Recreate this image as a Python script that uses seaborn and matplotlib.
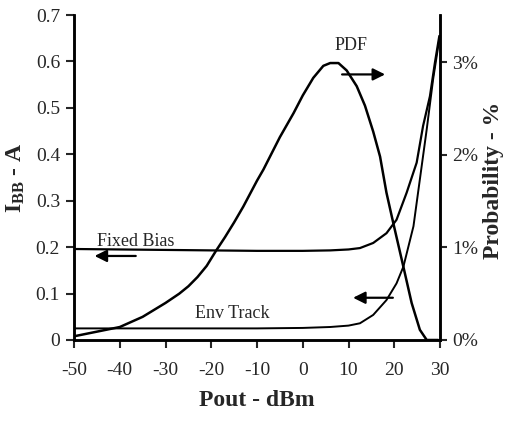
import matplotlib
matplotlib.use("Agg")
import matplotlib.pyplot as plt
import seaborn as sns
import pandas as pd

# ---- data ----
pdf_x = [-50, -45, -40, -35, -30, -27, -25, -23, -21, -19, -17, -15, -13, -10, -8.6, -5, -2, 0, 2.3, 4.5,
         6, 7.8, 9.6, 11.8, 13.6, 15.4, 16.9, 18.3, 19.8, 22, 23.8, 25.6, 27.1, 29.6]
pdf_pct = [0.04, 0.09, 0.14, 0.25, 0.40, 0.50, 0.58, 0.68, 0.80, 0.96, 1.11, 1.27, 1.44, 1.72, 1.84, 2.19,
           2.45, 2.64, 2.83, 2.96, 2.99, 2.99, 2.91, 2.74, 2.53, 2.25, 1.98, 1.59, 1.26, 0.79, 0.40, 0.11,
           0.0, 0.0]

fixed_x = [-50, -40, -30, -20, -10, 0, 6, 10, 12.5, 15.4, 18.3, 20.5, 22.7, 24.9, 26.3, 27.8, 28.9, 29.85]
fixed_a = [0.196, 0.195, 0.194, 0.193, 0.192, 0.192, 0.193, 0.195, 0.198, 0.209, 0.23, 0.259, 0.317, 0.382,
           0.461, 0.525, 0.598, 0.655]

env_x = [-50, -40, -30, -20, -10, 0, 6, 10, 12.5, 15.4, 18.3, 20.5, 22, 24.2, 25.6, 27.1, 28.5, 29.85]
env_a = [0.025, 0.025, 0.025, 0.025, 0.025, 0.026, 0.028, 0.031, 0.036, 0.054, 0.086, 0.122, 0.158, 0.245,
         0.346, 0.454, 0.562, 0.648]

x_ticks = [-50, -40, -30, -20, -10, 0, 10, 20, 30]
x_ticklabels = ["-50", "-40", "-30", "-20", "-10", "0", "10", "20", "30"]
y_ticks = [0, 0.1, 0.2, 0.3, 0.4, 0.5, 0.6, 0.7]
y_ticklabels = ["0", "0.1", "0.2", "0.3", "0.4", "0.5", "0.6", "0.7"]
r_ticks = [0, 1, 2, 3]
r_ticklabels = ["0%", "1%", "2%", "3%"]

sns.set_style("white")
plt.rcParams["font.family"] = ["Liberation Serif", "DejaVu Serif"]
plt.rcParams["mathtext.fontset"] = "custom"
plt.rcParams["mathtext.rm"] = "Liberation Serif"
plt.rcParams["mathtext.bf"] = "Liberation Serif:bold"
plt.rcParams["lines.solid_joinstyle"] = "round"

fig = plt.figure(figsize=(5.09, 4.24), dpi=100)
ax = fig.add_axes([74 / 509, 1 - 340 / 424, (440 - 74) / 509, (340 - 15) / 424])

fixed_df = pd.DataFrame({"x": fixed_x, "y": fixed_a})
env_df = pd.DataFrame({"x": env_x, "y": env_a})
pdf_df = pd.DataFrame({"x": pdf_x, "y": pdf_pct})

sns.lineplot(data=fixed_df, x="x", y="y", ax=ax, color="black", lw=1.6, sort=False)
sns.lineplot(data=env_df, x="x", y="y", ax=ax, color="black", lw=1.4, sort=False)

ax.set_xlim(-50, 30)
ax.set_ylim(0, 0.7)
ax.set_xticks(x_ticks)
ax.set_xticklabels(x_ticklabels)
ax.set_yticks(y_ticks)
ax.set_yticklabels(y_ticklabels)
ax.tick_params(axis="both", direction="out", length=6, width=1.5, labelsize=14, pad=4,
               bottom=True, left=True)
ax.tick_params(axis="x", pad=10)

ax2 = ax.twinx()
sns.lineplot(data=pdf_df, x="x", y="y", ax=ax2, color="black", lw=1.8, sort=False)
ax2.set_ylim(0, 0.7 / 0.1995)
ax2.set_yticks(r_ticks)
ax2.set_yticklabels(r_ticklabels)
ax2.tick_params(axis="y", direction="out", length=5, width=1.5, labelsize=14, right=True, pad=4)
ax2.set_ylabel("")

for a in (ax, ax2):
    a.spines["top"].set_visible(False)
    for s in ("left", "right", "bottom"):
        a.spines[s].set_linewidth(1.8)
        a.spines[s].set_color("black")

ax.set_xlabel("Pout - dBm", fontsize=17, fontweight="bold", labelpad=8)
ax.set_ylabel(r"I$\mathbf{_{BB}}$ - A", fontsize=17, fontweight="bold", labelpad=6)
fig.text(494 / 509, 1 - 180 / 424, "Probability - %", rotation=90, fontsize=17, fontweight="bold",
         ha="center", va="center")

# annotations
ax.text(-36.5, 0.212, "Fixed Bias", fontsize=13, ha="center", va="center")
ax.text(-15.5, 0.058, "Env Track", fontsize=13, ha="center", va="center")
ax.text(10.5, 0.635, "PDF", fontsize=13, ha="center", va="center")

arrow = dict(arrowstyle="-|>", color="black", lw=1.6, mutation_scale=18, shrinkA=0, shrinkB=0)
ax.annotate("", xy=(-45.5, 0.181), xytext=(-36.5, 0.181), arrowprops=arrow)
ax.annotate("", xy=(11, 0.091), xytext=(19.7, 0.091), arrowprops=arrow)
ax.annotate("", xy=(18, 0.572), xytext=(8.6, 0.572), arrowprops=arrow)

fig.savefig("out.png", dpi=100)
